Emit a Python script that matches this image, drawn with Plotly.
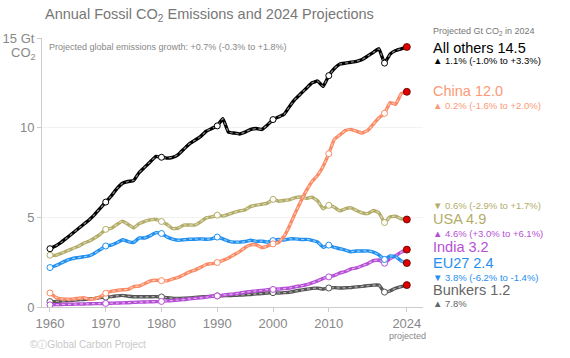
import plotly.graph_objects as go

years = list(range(1960, 2025))

all_others = [3.25, 3.4, 3.6, 3.85, 4.1, 4.35, 4.6, 4.85, 5.15, 5.5,
              5.85, 6.2, 6.6, 6.9, 7.0, 7.05, 7.5, 7.8, 8.1, 8.4,
              8.35, 8.3, 8.35, 8.5, 8.8, 9.1, 9.3, 9.5, 9.8, 9.95,
              10.1, 10.5, 9.75, 9.7, 9.65, 9.75, 9.9, 9.95, 9.9, 10.15,
              10.45, 10.6, 10.75, 11.2, 11.6, 11.9, 12.2, 12.5, 12.6, 12.3,
              12.9, 13.3, 13.55, 13.6, 13.65, 13.7, 13.8, 14.0, 14.2, 14.4,
              13.6, 14.1, 14.3, 14.4, 14.5]
china = [0.78, 0.55, 0.45, 0.44, 0.44, 0.48, 0.52, 0.44, 0.46, 0.57,
         0.77, 0.87, 0.92, 0.96, 0.98, 1.14, 1.17, 1.31, 1.46, 1.49,
         1.47, 1.46, 1.57, 1.65, 1.80, 1.96, 2.06, 2.21, 2.37, 2.42,
         2.48, 2.60, 2.73, 2.91, 3.09, 3.32, 3.46, 3.47, 3.32, 3.40,
         3.52, 3.6, 3.95, 4.55, 5.25, 5.9, 6.5, 7.0, 7.35, 7.85,
         8.55, 9.35, 9.6, 9.85, 9.9, 9.8, 9.7, 9.85, 10.2, 10.55,
         10.8, 11.4, 11.3, 11.9, 12.0]
usa = [2.89, 2.88, 2.99, 3.12, 3.25, 3.37, 3.55, 3.67, 3.85, 4.05,
       4.33, 4.39, 4.6, 4.79, 4.61, 4.41, 4.65, 4.78, 4.86, 4.88,
       4.77, 4.6, 4.37, 4.4, 4.57, 4.57, 4.57, 4.75, 4.97, 5.03,
       5.12, 5.07, 5.17, 5.27, 5.36, 5.42, 5.61, 5.68, 5.73, 5.79,
       6.0, 5.9, 5.94, 5.99, 6.1, 6.13, 6.05, 6.12, 5.92, 5.48,
       5.67, 5.56, 5.36, 5.48, 5.53, 5.38, 5.25, 5.21, 5.38, 5.26,
       4.71, 5.03, 5.06, 4.91, 4.88]
eu27 = [2.2, 2.3, 2.45, 2.6, 2.7, 2.75, 2.8, 2.85, 3.0, 3.2,
        3.4, 3.45, 3.58, 3.75, 3.65, 3.6, 3.85, 3.85, 3.98, 4.15,
        4.1, 3.9, 3.78, 3.72, 3.75, 3.78, 3.78, 3.8, 3.78, 3.8,
        3.9, 3.8, 3.68, 3.62, 3.62, 3.65, 3.72, 3.66, 3.67, 3.62,
        3.7, 3.76, 3.74, 3.8, 3.8, 3.76, 3.77, 3.72, 3.62, 3.33,
        3.45, 3.32, 3.25, 3.17, 3.08, 3.12, 3.12, 3.13, 3.06, 2.9,
        2.65, 2.85, 2.8, 2.57, 2.45]
india = [0.12, 0.13, 0.14, 0.15, 0.15, 0.17, 0.17, 0.18, 0.19, 0.19,
         0.20, 0.21, 0.22, 0.23, 0.24, 0.26, 0.27, 0.28, 0.29, 0.30,
         0.31, 0.34, 0.36, 0.39, 0.41, 0.45, 0.48, 0.51, 0.55, 0.6,
         0.62, 0.66, 0.7, 0.73, 0.77, 0.83, 0.86, 0.9, 0.92, 0.97,
         0.98, 1.0, 1.03, 1.06, 1.13, 1.18, 1.25, 1.35, 1.46, 1.6,
         1.68, 1.76, 1.9, 1.98, 2.13, 2.18, 2.3, 2.42, 2.58, 2.62,
         2.44, 2.7, 2.86, 3.06, 3.2]
bunkers = [0.30, 0.31, 0.33, 0.35, 0.37, 0.40, 0.42, 0.45, 0.48, 0.52,
           0.55, 0.58, 0.62, 0.65, 0.6, 0.57, 0.57, 0.57, 0.57, 0.58,
           0.56, 0.52, 0.49, 0.48, 0.49, 0.5, 0.54, 0.56, 0.58, 0.6,
           0.62, 0.63, 0.64, 0.65, 0.66, 0.68, 0.7, 0.73, 0.75, 0.78,
           0.8, 0.78, 0.8, 0.82, 0.89, 0.94, 0.99, 1.04, 1.05, 1.0,
           1.06, 1.08, 1.06, 1.07, 1.09, 1.12, 1.15, 1.19, 1.22, 1.22,
           0.83, 0.9, 1.05, 1.14, 1.22]

marker_years = [1960, 1970, 1980, 1990, 2000, 2010, 2020]
proj_year = 2024

x_tickvals = [1960, 1970, 1980, 1990, 2000, 2010, 2024]
x_ticktext = ["1960", "1970", "1980", "1990", "2000", "2010", "2024"]
y_tickvals = [0, 5, 10, 15]
y_ticktext = ["0", "5", "10", "15 Gt"]

series = [
    ("Bunkers", bunkers, "#555555"),
    ("India", india, "#b74fd6"),
    ("EU27", eu27, "#1f8ff0"),
    ("USA", usa, "#b3ac68"),
    ("China", china, "#fb8a64"),
    ("All others", all_others, "#000000"),
]

labels = [
    # text, color, y pixel, size
    ("Projected Gt CO<sub>2</sub> in 2024", "#777777", 31, 9),
    ("All others 14.5", "#000000", 48, 14.5),
    ("▲ 1.1% (-1.0% to +3.3%)", "#000000", 61, 9.5),
    ("China 12.0", "#fb9a78", 91, 14.5),
    ("▲ 0.2% (-1.6% to +2.0%)", "#fb9a78", 106, 9.5),
    ("▼ 0.6% (-2.9% to +1.7%)", "#b3ac68", 205, 9.5),
    ("USA 4.9", "#b3ac68", 219, 14.5),
    ("▲ 4.6% (+3.0% to +6.1%)", "#b74fd6", 233, 9.5),
    ("India 3.2", "#b74fd6", 247, 14.5),
    ("EU27 2.4", "#1f8ff0", 263, 14.5),
    ("▼ 3.8% (-6.2% to -1.4%)", "#1f8ff0", 277, 9.5),
    ("Bunkers 1.2", "#666666", 290, 14.5),
    ("▲ 7.8%", "#666666", 303, 9.5),
]

W, H = 570, 358
L, R, T, B = 42, 147, 38, 51
PW, PH = W - L - R, H - T - B


def px(xp):
    return (xp - L) / PW


def py(yp):
    return 1 - (yp - T) / PH


fig = go.Figure()
for name, vals, col in series:
    fig.add_trace(go.Scatter(x=years, y=vals, mode="lines",
                             line=dict(color=col, width=3.4, shape="spline", smoothing=0.3),
                             hoverinfo="skip", showlegend=False))
    fig.add_trace(go.Scatter(x=years, y=vals, mode="lines",
                             line=dict(color="rgba(255,255,255,0.55)", width=1.2, dash="3px,3px",
                                       shape="spline", smoothing=0.3),
                             hoverinfo="skip", showlegend=False))
    my = [vals[years.index(y)] for y in marker_years]
    fig.add_trace(go.Scatter(x=marker_years, y=my, mode="markers",
                             marker=dict(color="white", size=6, line=dict(color=col, width=1)),
                             hoverinfo="skip", showlegend=False))
    fig.add_trace(go.Scatter(x=[proj_year], y=[vals[years.index(proj_year)]], mode="markers",
                             marker=dict(color="#e00000", size=7, line=dict(color="#550000", width=0.8)),
                             hoverinfo="skip", showlegend=False))

font_family = "Liberation Sans, Arial, sans-serif"
ann = []
ann.append(dict(text="Annual Fossil CO<sub>2</sub> Emissions and 2024 Projections",
                x=px(43), y=py(15), xref="paper", yref="paper", xanchor="left", yanchor="middle",
                showarrow=False, font=dict(size=14.5, color="#777777")))
ann.append(dict(text="Projected global emissions growth: +0.7% (-0.3% to +1.8%)",
                x=px(47), y=py(47), xref="paper", yref="paper", xanchor="left", yanchor="middle",
                showarrow=False, font=dict(size=9, color="#888888")))
ann.append(dict(text="CO<sub>2</sub>",
                x=px(38), y=py(54), xref="paper", yref="paper", xanchor="right", yanchor="middle",
                showarrow=False, font=dict(size=13, color="#888888")))
ann.append(dict(text="projected",
                x=px(407), y=py(336), xref="paper", yref="paper", xanchor="center", yanchor="middle",
                showarrow=False, font=dict(size=9, color="#888888")))
for text, col, yp, size in labels:
    ann.append(dict(text=text, x=px(431), y=py(yp), xref="paper", yref="paper",
                    xanchor="left", yanchor="middle", showarrow=False,
                    font=dict(size=size, color=col)))
ann.append(dict(text="©ⓘGlobal Carbon Project", x=px(28), y=py(344), xref="paper", yref="paper",
                xanchor="left", yanchor="middle", showarrow=False,
                font=dict(size=10, color="#c8c8c8")))

fig.update_layout(
    width=W, height=H,
    margin=dict(l=L, r=R, t=T, b=B, pad=0),
    paper_bgcolor="white", plot_bgcolor="white",
    font=dict(family=font_family, color="#888888"),
    annotations=ann,
    xaxis=dict(range=[1958.57, 2026.9], tickvals=x_tickvals, ticktext=x_ticktext,
               automargin=False,
               showgrid=False, zeroline=False, showline=True, linecolor="#cccccc", linewidth=1,
               ticks="outside", ticklen=4, tickcolor="#cccccc",
               tickfont=dict(size=13, color="#888888")),
    yaxis=dict(range=[0, 15], tickvals=y_tickvals, ticktext=y_ticktext,
               automargin=False,
               showgrid=True, gridcolor="#f2f2f2", zeroline=False,
               showline=True, linecolor="#cccccc", linewidth=1,
               ticks="outside", ticklen=4, tickcolor="#cccccc",
               tickfont=dict(size=13, color="#888888")),
)

fig.write_html("out.html", config={"displayModeBar": False},
               post_script="document.body.style.margin='0';")
